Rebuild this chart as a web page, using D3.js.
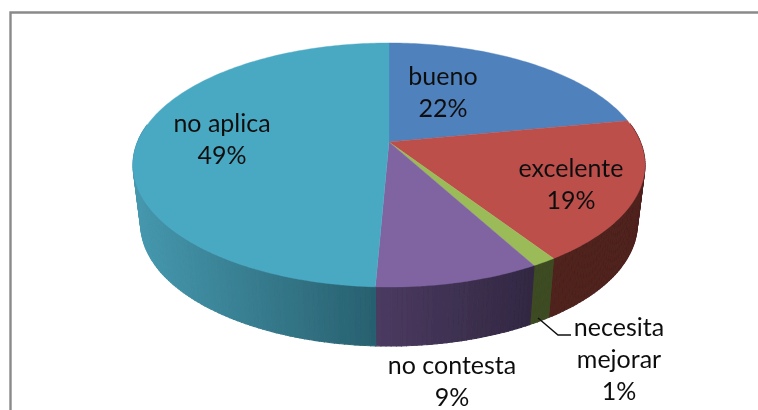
<!DOCTYPE html>
<html><head><meta charset="utf-8">
<script src="https://cdn.jsdelivr.net/npm/d3@7"></script>
<style>html,body{margin:0;padding:0;background:#fff;overflow:hidden}svg{display:block}</style>
</head><body><svg id="c" width="758" height="410"></svg>
<script>
const categories = ["bueno","excelente","necesita mejorar","no contesta","no aplica"];
const values = [22, 18.7, 1.3, 8.7, 49.3];
const topColors = ["#4f81bd","#bd4f4c","#9abb59","#8063a1","#4aa9c3"];
const wallFrom = ["#3a5f8c","#4f211f","#3e4b21","#4b3a60","#4698ae"];
const wallTo   = ["#3a5f8c","#4f211f","#3e4b21","#322842","#28606f"];

const apex = {x:389, y:142};
const persp = -0.1885, R = 251.4, S = 117.7;
const depth = {scale:0.97, dy:59};
const svg = d3.select("#c");
svg.append("defs").append("filter").attr("id","soft").append("feGaussianBlur").attr("stdDeviation",0.35);
const root = svg.append("g").attr("filter","url(#soft)");

const proj = a => { const u=Math.sin(a), v=-Math.cos(a), w=1+persp*v;
  return [apex.x+R*u/w, apex.y+S*v/w]; };
const projB = a => { const [x,y]=proj(a);
  return [apex.x+(x-apex.x)*depth.scale, y+depth.dy]; };

const arcs = d3.pie().sort(null).value(d=>d)(values);
const rim = (d,step) => { const n=Math.max(2,Math.ceil((d.endAngle-d.startAngle)/step));
  return d3.range(n+1).map(i=>d.startAngle+(d.endAngle-d.startAngle)*i/n); };

// frame
svg.append("path").attr("d","M10.5,412V12.5H760").attr("fill","none").attr("stroke","#8a8a8a").attr("stroke-width",2.4);

// walls: narrow strips whose colour follows x
const line = d3.line();
arcs.forEach((d,i)=>{
  const as = rim(d,Math.PI/180);
  const front = as.slice(0,-1).map((a,k)=>[a,as[k+1]]).filter(p=>Math.cos((p[0]+p[1])/2)<0.15);
  if(!front.length) return;
  const xs = front.flatMap(p=>[proj(p[0])[0],proj(p[1])[0]]);
  const cs = d3.scaleLinear().domain(d3.extent(xs)).range([wallFrom[i],wallTo[i]]);
  const mid = p=>cs((proj(p[0])[0]+proj(p[1])[0])/2);
  root.append("g").selectAll("path").data(front).join("path")
    .attr("d",p=>line([proj(p[0]),proj(p[1]),projB(p[1]),projB(p[0])])+"Z")
    .attr("fill",mid).attr("stroke",mid).attr("stroke-width",1.1);
});

// top
root.append("g").selectAll("path").data(arcs).join("path")
  .attr("d",d=>line([[apex.x,apex.y],...rim(d,Math.PI/180).map(proj)])+"Z")
  .attr("fill",(d,i)=>topColors[i]).attr("stroke",(d,i)=>topColors[i]).attr("stroke-width",0.4);

// leader
root.append("path").attr("d",line([[538,318],[558,335],[571,335]])).attr("fill","none").attr("stroke","#111").attr("stroke-width",1.4);

// labels
const pct = d3.format(".0f");
const labelLines = categories.map((c,i)=> (i===2?c.split(" "):[c]).concat(pct(values[i])+"%"));
const labelPos = [[443,85],[571,177],[619,336],[452,374],[222,132]];
const LH = 32, FS = 25;
const t = root.append("g").attr("font-family","Lato, Carlito, sans-serif").attr("font-size",FS).attr("fill","#111").attr("text-anchor","middle");
labelLines.forEach((ls,i)=>ls.forEach((s,k)=>t.append("text").attr("x",labelPos[i][0]).attr("y",labelPos[i][1]+k*LH).text(s)));
</script></body></html>
